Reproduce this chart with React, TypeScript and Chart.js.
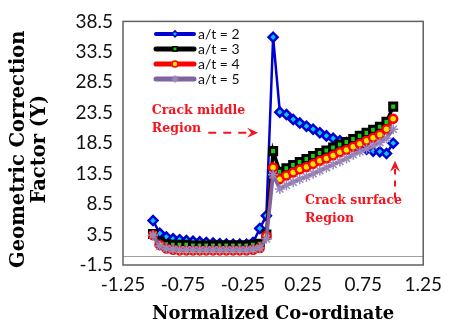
import React, { useEffect, useRef } from 'react';
import { Chart, registerables } from 'chart.js';
import { drawPoint } from 'chart.js/helpers';

Chart.register(...registerables);

// Normalized position along the crack front
const coords = [
  -1, -0.944, -0.889, -0.833, -0.778, -0.722, -0.667, -0.611, -0.556, -0.5,
  -0.444, -0.389, -0.333, -0.278, -0.222, -0.167, -0.111, -0.056,
  0, 0.056, 0.111, 0.167, 0.222, 0.278, 0.333, 0.389, 0.444, 0.5,
  0.556, 0.611, 0.667, 0.722, 0.778, 0.833, 0.889, 0.944, 1,
];

// Geometric correction factor Y for each a/t ratio
const at2 = [
  5.8, 3.7, 3.1, 2.8, 2.65, 2.5, 2.4, 2.3, 2.2, 2.1, 2.0, 1.95, 1.9, 1.9, 1.9, 2.2, 4.5, 6.6,
  35.9, 23.6, 23.2, 22.4, 21.8, 21.3, 20.8, 20.2, 19.7, 19.3, 18.9, 18.6, 18.0, 17.8, 17.5, 17.2, 17.1, 16.8, 18.5,
];
const at3 = [
  3.6, 2.3, 1.9, 1.8, 1.8, 1.8, 1.7, 1.7, 1.7, 1.7, 1.7, 1.7, 1.7, 1.7, 1.7, 1.8, 2.0, 3.5,
  17.2, 13.8, 14.4, 14.9, 15.4, 15.9, 16.4, 16.9, 17.3, 17.8, 18.3, 18.7, 19.2, 19.7, 20.2, 20.7, 21.2, 22.0, 24.5,
];
const at4 = [
  3.4, 1.8, 1.2, 1.0, 0.9, 0.9, 0.9, 0.9, 0.9, 0.9, 0.9, 0.9, 0.9, 0.9, 0.9, 1.0, 1.3, 3.3,
  14.5, 12.6, 13.2, 13.7, 14.2, 14.6, 15.1, 15.6, 16.0, 16.5, 17.0, 17.4, 17.9, 18.4, 18.9, 19.4, 19.9, 20.8, 22.5,
];
const at5 = [
  3.4, 1.6, 1.2, 1.1, 1.0, 1.0, 1.0, 1.0, 1.0, 1.0, 1.0, 1.0, 1.0, 1.0, 1.0, 1.1, 1.3, 2.8,
  13.3, 11.0, 11.6, 12.1, 12.6, 13.0, 13.5, 14.0, 14.5, 15.0, 15.5, 16.0, 16.6, 17.1, 17.6, 18.1, 18.6, 19.3, 20.8,
];

const seriesLabels = ['a/t = 2', 'a/t = 3', 'a/t = 4', 'a/t = 5'];

const xTickValues = [-1.25, -0.75, -0.25, 0.25, 0.75, 1.25];
const yTickValues = [-1.5, 3.5, 8.5, 13.5, 18.5, 23.5, 28.5, 33.5, 38.5];

const xTitle = 'Normalized Co-ordinate';
const yTitle = ['Geometric Correction', 'Factor (Y)'];

const notes = [
  { lines: ['Crack middle', 'Region'], x: -1.01, y: 23.9 },
  { lines: ['Crack surface', 'Region'], x: 0.265, y: 9.1 },
];

const NOTE_RED = '#f5141e';
const TICK_FONT = { family: 'Lato', size: 19 };
const SERIF_BOLD = 'DejaVu Serif';

const toPoints = (ys: number[]) => ys.map((y, i) => ({ x: coords[i], y }));

function arrowHead(ctx: CanvasRenderingContext2D, x: number, y: number, angle: number) {
  ctx.save();
  ctx.translate(x, y);
  ctx.rotate(angle);
  ctx.beginPath();
  ctx.moveTo(0, 0);
  ctx.lineTo(-11, -5);
  ctx.lineTo(-7, 0);
  ctx.lineTo(-11, 5);
  ctx.closePath();
  ctx.fill();
  ctx.restore();
}

// Draws the y-axis title as two rotated lines, centred a little below the plot middle
function drawYTitle(chart: any) {
  const { ctx, chartArea: a } = chart;
  const cy = (a.top + a.bottom) / 2 + 6;
  ctx.save();
  ctx.fillStyle = '#000';
  ctx.font = `bold 19.5px "${SERIF_BOLD}"`;
  ctx.textAlign = 'center';
  ctx.textBaseline = 'middle';
  ctx.translate(19, cy);
  ctx.rotate(-Math.PI / 2);
  yTitle.forEach((line, k) => ctx.fillText(line, 0, k * 21));
  ctx.restore();
}

const decorPlugin = {
  id: 'decor',
  beforeDatasetsDraw(chart: any) {
    const { ctx, chartArea: a, scales } = chart;
    const y0 = Math.round(scales.y.getPixelForValue(0)) + 0.5;
    ctx.save();
    ctx.strokeStyle = '#a0a0a0';
    ctx.lineWidth = 1;
    ctx.beginPath();
    ctx.moveTo(a.left, y0);
    ctx.lineTo(a.right, y0);
    ctx.stroke();
    ctx.restore();
  },
  afterDatasetsDraw(chart: any) {
    const { ctx, chartArea: a, scales } = chart;
    const sx = scales.x;
    const sy = scales.y;

    drawYTitle(chart);

    // plot frame
    ctx.save();
    ctx.strokeStyle = '#606060';
    ctx.lineWidth = 1.5;
    ctx.strokeRect(a.left, a.top, a.right - a.left, a.bottom - a.top);
    ctx.restore();

    // legend inside the plot
    const lx0 = a.left + 33;
    const lx1 = lx0 + 38;
    chart.data.datasets.forEach((ds: any, i: number) => {
      const ly = a.top + 12.5 + i * 15;
      ctx.save();
      ctx.strokeStyle = ds.borderColor;
      ctx.lineWidth = ds.legendLineWidth;
      ctx.lineCap = 'round';
      ctx.beginPath();
      ctx.moveTo(lx0, ly);
      ctx.lineTo(lx1, ly);
      ctx.stroke();
      ctx.fillStyle = ds.pointBackgroundColor;
      ctx.strokeStyle = ds.pointBorderColor;
      ctx.lineWidth = 1.5;
      drawPoint(ctx, { pointStyle: ds.pointStyle, rotation: 0, radius: 3, borderWidth: 1.5 }, (lx0 + lx1) / 2, ly);
      ctx.fillStyle = '#111';
      ctx.font = '14px Lato';
      ctx.textAlign = 'left';
      ctx.textBaseline = 'middle';
      ctx.fillText(ds.label, lx1 + 4, ly + 0.5);
      ctx.restore();
    });

    // region notes
    ctx.save();
    ctx.fillStyle = NOTE_RED;
    ctx.font = `bold 12.5px "${SERIF_BOLD}"`;
    ctx.textAlign = 'left';
    ctx.textBaseline = 'middle';
    notes.forEach((n) => {
      const px = sx.getPixelForValue(n.x);
      const py = sy.getPixelForValue(n.y);
      n.lines.forEach((line, k) => ctx.fillText(line, px, py + k * 18));
    });

    // dashed arrows pointing at the two regions
    ctx.strokeStyle = NOTE_RED;
    ctx.lineWidth = 2;
    ctx.setLineDash([8, 7]);
    const mY = sy.getPixelForValue(20.2);
    const mX0 = sx.getPixelForValue(-0.54);
    const mX1 = sx.getPixelForValue(-0.125);
    ctx.beginPath();
    ctx.moveTo(mX0, mY);
    ctx.lineTo(mX1 - 8, mY);
    ctx.stroke();
    const sX = sx.getPixelForValue(1.015);
    const sY0 = sy.getPixelForValue(9.4);
    const sY1 = sy.getPixelForValue(15.6);
    ctx.setLineDash([6, 6]);
    ctx.beginPath();
    ctx.moveTo(sX, sY0);
    ctx.lineTo(sX, sY1 + 8);
    ctx.stroke();
    ctx.setLineDash([]);
    arrowHead(ctx, mX1, mY, 0);
    arrowHead(ctx, sX, sY1, -Math.PI / 2);
    ctx.restore();
  },
};

export default function App() {
  const canvasRef = useRef<HTMLCanvasElement | null>(null);

  useEffect(() => {
    document.body.style.margin = '0';
    const canvas = canvasRef.current;
    if (!canvas) return;

    const datasets: any[] = [
      {
        label: seriesLabels[0],
        data: toPoints(at2),
        borderColor: '#0000d0',
        borderWidth: 2.5,
        pointStyle: 'rectRot',
        pointRadius: 4.5,
        pointBorderWidth: 2.5,
        pointBackgroundColor: '#00c8ff',
        pointBorderColor: '#0000d0',
        legendLineWidth: 4,
        order: 3,
      },
      {
        label: seriesLabels[1],
        data: toPoints(at3),
        borderColor: '#000000',
        borderWidth: 3.5,
        pointStyle: 'rect',
        pointRadius: 5,
        pointBorderWidth: 3,
        pointBackgroundColor: '#10d010',
        pointBorderColor: '#000000',
        legendLineWidth: 5,
        order: 2,
      },
      {
        label: seriesLabels[2],
        data: toPoints(at4),
        borderColor: '#ff0000',
        borderWidth: 3,
        pointStyle: 'circle',
        pointRadius: 4,
        pointBorderWidth: 2.5,
        pointBackgroundColor: '#ffe600',
        pointBorderColor: '#ff0000',
        legendLineWidth: 5,
        order: 1,
      },
      {
        label: seriesLabels[3],
        data: toPoints(at5),
        borderColor: '#8064a2',
        borderWidth: 3.5,
        pointStyle: 'star',
        pointRadius: 5,
        pointBorderWidth: 1.5,
        pointBackgroundColor: '#8064a2',
        pointBorderColor: '#9a86b8',
        legendLineWidth: 5,
        order: 0,
      },
    ];

    const chart = new Chart(canvas, {
      type: 'line',
      data: { datasets },
      options: {
        animation: false,
        responsive: true,
        maintainAspectRatio: false,
        devicePixelRatio: 1,
        layout: { padding: { left: 0, right: 18, top: 20, bottom: 0 } },
        plugins: {
          legend: { display: false },
          tooltip: { enabled: false },
        },
        scales: {
          x: {
            type: 'linear',
            min: -1.25,
            max: 1.25,
            grid: { display: false, drawTicks: false },
            border: { display: false },
            afterBuildTicks: (scale: any) => {
              scale.ticks = xTickValues.map((v) => ({ value: v }));
            },
            afterFit: (scale: any) => {
              scale.height = 58;
            },
            ticks: {
              color: '#111',
              font: TICK_FONT,
              padding: 8,
              maxRotation: 0,
              callback: (v: any) => Number(v).toFixed(2),
            },
            title: {
              display: true,
              text: xTitle,
              color: '#000',
              font: { family: SERIF_BOLD, weight: 'bold', size: 18, lineHeight: 1.0 },
              padding: { top: 0, bottom: 0 },
            },
          },
          y: {
            type: 'linear',
            min: -1.5,
            max: 38.5,
            grid: { display: false, drawTicks: false },
            border: { display: false },
            afterBuildTicks: (scale: any) => {
              scale.ticks = yTickValues.map((v) => ({ value: v }));
            },
            afterFit: (scale: any) => {
              scale.width = 123;
            },
            ticks: {
              color: '#111',
              font: TICK_FONT,
              padding: 10,
              callback: (v: any) => Number(v).toFixed(1),
            },
          },
        },
      },
      plugins: [decorPlugin],
    } as any);

    return () => chart.destroy();
  }, []);

  return (
    <div style={{ position: 'relative', width: 450, height: 323 }}>
      <canvas ref={canvasRef} />
    </div>
  );
}
